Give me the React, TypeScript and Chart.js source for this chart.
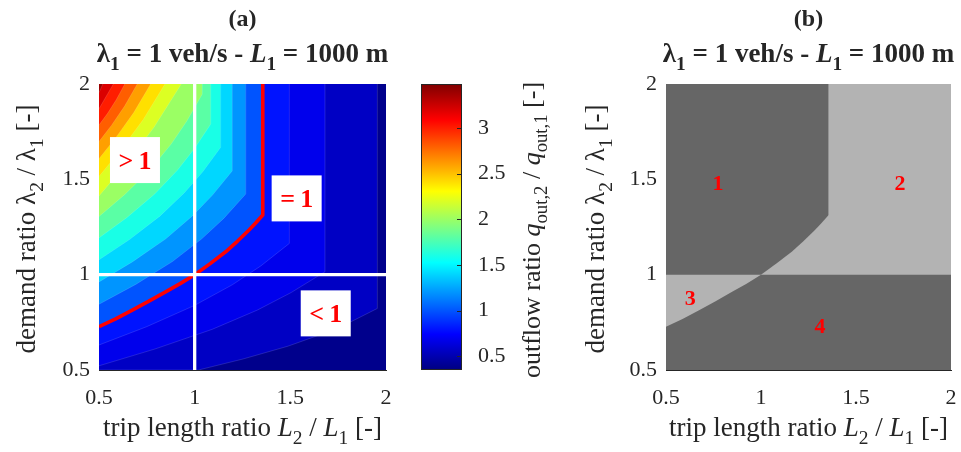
import React, { useEffect, useRef } from "react";
import { Chart, registerables } from "chart.js";
Chart.register(...registerables);

// ---------- data ----------
const xTicks = [0.5, 1, 1.5, 2];
const yTicks = [0.5, 1, 1.5, 2];
const cbarTicks = [0.5, 1, 1.5, 2, 2.5, 3];
const cbarMin = 0.35;
const cbarMax = 3.48;
const levels = [0.4, 0.6, 0.8, 1.0, 1.2, 1.4, 1.6, 1.8, 2.0, 2.2, 2.4, 2.6, 2.8, 3.0, 3.2, 3.4];

// contour lines [L2/L1, lambda2/lambda1]
const c040 = [[0.5, 0.5], [1.02, 0.5], [1.254, 0.558], [1.488, 0.625], [1.675, 0.692], [1.815, 0.752], [1.955, 0.823], [1.955, 2]];
const c060 = [[0.5, 0.522], [0.795, 0.611], [1.091, 0.713], [1.327, 0.814], [1.504, 0.906], [1.681, 1.015], [1.681, 2]];
const c080 = [[0.5, 0.631], [0.749, 0.727], [0.998, 0.838], [1.197, 0.947], [1.346, 1.046], [1.495, 1.164], [1.495, 2]];
const unityCurve = [
  [0.5, 0.727], [0.587, 0.768], [0.674, 0.814], [0.761, 0.861], [0.848, 0.91], [0.924, 0.953], [1.0, 1.0],
  [1.081, 1.058], [1.162, 1.12], [1.223, 1.175], [1.284, 1.234], [1.32, 1.272], [1.356, 1.313], [1.356, 2],
];
const c120 = [[0.5, 0.845], [0.692, 0.949], [0.884, 1.069], [1.037, 1.188], [1.152, 1.295], [1.267, 1.423], [1.267, 2]];
const c140 = [[0.5, 0.962], [0.674, 1.067], [0.849, 1.188], [0.988, 1.308], [1.092, 1.416], [1.197, 1.545], [1.197, 2]];
const c160 = [[0.5, 1.078], [0.659, 1.184], [0.818, 1.307], [0.945, 1.428], [1.041, 1.538], [1.136, 1.668], [1.136, 2]];
const c180 = [[0.5, 1.193], [0.646, 1.3], [0.792, 1.424], [0.909, 1.547], [0.996, 1.658], [1.084, 1.79], [1.084, 2]];
const c200 = [[0.5, 1.305], [0.635, 1.421], [0.77, 1.554], [0.878, 1.686], [0.959, 1.806], [1.04, 1.948], [1.04, 2]];
const c220 = [[0.5, 1.413], [0.642, 1.581], [0.788, 1.774], [0.93, 2]];
const c240 = [[0.5, 1.515], [0.614, 1.654], [0.731, 1.813], [0.845, 2]];
const c260 = [[0.5, 1.608], [0.589, 1.72], [0.681, 1.849], [0.77, 2]];
const c280 = [[0.5, 1.698], [0.566, 1.784], [0.634, 1.884], [0.7, 2]];
const c300 = [[0.5, 1.785], [0.545, 1.846], [0.59, 1.917], [0.635, 2]];
const c320 = [[0.5, 1.87], [0.575, 2]];
const c340 = [[0.5, 1.955], [0.52, 2]];
const contours = [c040, c060, c080, unityCurve, c120, c140, c160, c180, c200, c220, c240, c260, c280, c300, c320, c340];

const crossValue = 1;
const boxTextsA = [">\u20091", "=\u20091", "<\u20091"];
const boxPosA = [[0.688, 1.601], [1.533, 1.4], [1.685, 0.797]];
const regionNames = ["1", "2", "3", "4"];
const regionPos = [[0.774, 1.487], [1.732, 1.487], [0.627, 0.885], [1.31, 0.735]];

// ---------- styling helpers ----------
const SERIF = '"Liberation Serif", "Times New Roman", serif';
const INK = "#262626";
const W = 961;
const H = 452;
const LABEL_SIZE = 27;

function jet(f: number) {
  const c = (v: number) => Math.round(255 * Math.max(0, Math.min(1, v)));
  return `rgb(${c(1.5 - Math.abs(4 * f - 3))},${c(1.5 - Math.abs(4 * f - 2))},${c(1.5 - Math.abs(4 * f - 1))})`;
}
const frac = (v: number) => (v - cbarMin) / (cbarMax - cbarMin);
const lowBandColors = ["rgb(0,0,196)", "rgb(0,0,236)"];
const bandColor = (k: number) => (k < lowBandColors.length ? lowBandColors[k] : jet(frac(levels[k])));
const pts = (a: number[][]) => a.map(([x, y]) => ({ x, y }));

type Part = { t: string; i?: boolean; b?: boolean; sub?: boolean };
function fontOf(p: Part, size: number) {
  const s = p.sub ? size * 0.72 : size;
  return `${p.i ? "italic " : ""}${p.b ? "bold " : ""}${s}px ${SERIF}`;
}
function drawRich(ctx: CanvasRenderingContext2D, parts: Part[], size: number, cx: number, cy: number, rotate = false, color = INK) {
  ctx.save();
  ctx.translate(cx, cy);
  if (rotate) ctx.rotate(-Math.PI / 2);
  let w = 0;
  const widths = parts.map((p) => {
    ctx.font = fontOf(p, size);
    const m = ctx.measureText(p.t).width;
    w += m;
    return m;
  });
  let x = -w / 2;
  ctx.textBaseline = "alphabetic";
  ctx.textAlign = "left";
  ctx.fillStyle = color;
  parts.forEach((p, k) => {
    ctx.font = fontOf(p, size);
    ctx.fillText(p.t, x, size * 0.35 + (p.sub ? size * 0.28 : 0));
    x += widths[k];
  });
  ctx.restore();
}

const titleLine2: Part[] = [
  { t: "λ", b: true }, { t: "1", b: true, sub: true }, { t: " = 1 veh/s - ", b: true },
  { t: "L", b: true, i: true }, { t: "1", b: true, sub: true }, { t: " = 1000 m", b: true },
];
const xLabel: Part[] = [
  { t: "trip length ratio " }, { t: "L", i: true }, { t: "2", sub: true }, { t: " / " },
  { t: "L", i: true }, { t: "1", sub: true }, { t: " [-]" },
];
const yLabel: Part[] = [
  { t: "demand ratio " }, { t: "λ" }, { t: "2", sub: true }, { t: " / " },
  { t: "λ" }, { t: "1", sub: true }, { t: " [-]" },
];
const cLabel: Part[] = [
  { t: "outflow ratio " }, { t: "q", i: true }, { t: "out,2", sub: true }, { t: " / " },
  { t: "q", i: true }, { t: "out,1", sub: true }, { t: " [-]" },
];

const TICK_FONT = { family: SERIF, size: 22 };

function panelScales() {
  const common = {
    type: "linear" as const,
    min: 0.5,
    max: 2,
    grid: { display: true, drawOnChartArea: false, drawTicks: false, color: "rgba(0,0,0,0)" },
    border: { display: true, color: INK, width: 1 },
  };
  return {
    x: {
      ...common,
      afterBuildTicks: (s: any) => { s.ticks = xTicks.map((v) => ({ value: v })); },
      afterFit: (s: any) => { s.height = 40; s.paddingLeft = 0; s.paddingRight = 0; },
      ticks: { font: TICK_FONT, color: INK, padding: 15, maxRotation: 0, autoSkip: false, callback: (v: any) => String(v) },
    },
    y: {
      ...common,
      afterBuildTicks: (s: any) => { s.ticks = yTicks.map((v) => ({ value: v })); },
      afterFit: (s: any) => { s.width = 50; s.paddingTop = 0; s.paddingBottom = 0; },
      ticks: { font: TICK_FONT, color: INK, padding: 9, autoSkip: false, callback: (v: any) => String(v) },
    },
  };
}

const baseOpts = {
  animation: false as const,
  responsive: false,
  devicePixelRatio: 1,
  events: [] as any[],
  plugins: { legend: { display: false }, tooltip: { enabled: false } },
};

function configA(): any {
  const bands = contours.map((c, k) => ({
    data: pts(c),
    fill: "end",
    backgroundColor: bandColor(k),
    borderColor: "rgba(255,255,255,0.22)",
    borderWidth: 0.6,
    pointRadius: 0,
    tension: 0,
    order: 60 - k,
  }));
  const bg = { data: pts([[0.5, 2], [2, 2]]), fill: "start", backgroundColor: "rgb(0,0,140)", borderWidth: 0, pointRadius: 0, order: 100 };
  const red = { data: pts(unityCurve), fill: false, borderColor: "#ff0000", borderWidth: 3.6, pointRadius: 0, order: 3, borderJoinStyle: "round" };
  const wh = { data: pts([[0.5, crossValue], [2, crossValue]]), fill: false, borderColor: "#ffffff", borderWidth: 3.3, pointRadius: 0, order: 1 };
  const wv = { data: pts([[crossValue, 0.5], [crossValue, 2]]), fill: false, borderColor: "#ffffff", borderWidth: 3.3, pointRadius: 0, order: 1 };
  const plugin = {
    id: "decorA",
    afterDatasetsDraw(chart: any) {
      const { ctx, scales } = chart;
      boxPosA.forEach(([lx, ly], k) => {
        const px = scales.x.getPixelForValue(lx);
        const py = scales.y.getPixelForValue(ly);
        ctx.save();
        ctx.fillStyle = "#ffffff";
        ctx.fillRect(px - 25, py - 23, 50, 46);
        ctx.fillStyle = "#ff0000";
        ctx.font = `bold 26px ${SERIF}`;
        ctx.textAlign = "center";
        ctx.textBaseline = "alphabetic";
        ctx.fillText(boxTextsA[k], px, py + 9);
        ctx.restore();
      });
    },
    afterDraw(chart: any) {
      const { ctx } = chart;
      const cx = (chart.chartArea.left + chart.chartArea.right) / 2;
      drawRich(ctx, [{ t: "(a)", b: true }], 24, cx, 18);
      drawRich(ctx, titleLine2, LABEL_SIZE, cx, 53);
      drawRich(ctx, xLabel, LABEL_SIZE, cx, 427);
      drawRich(ctx, yLabel, LABEL_SIZE, 26, 229, true);
    },
  };
  return {
    type: "line",
    data: { datasets: [bg, ...bands, red, wh, wv] },
    options: { ...baseOpts, layout: { padding: { left: 49, right: W - 386, top: 84, bottom: H - 370 - 40 } }, scales: panelScales() },
    plugins: [plugin],
  };
}

function configB(): any {
  const region1 = [[0.5, crossValue], ...unityCurve.filter(([l]) => l >= crossValue)];
  const region4 = [...unityCurve.filter(([l]) => l <= crossValue), [2, crossValue]];
  const light = { data: pts([[0.5, 2], [2, 2]]), fill: "start", backgroundColor: "#b3b3b3", borderWidth: 0, pointRadius: 0, order: 10 };
  const dark1 = { data: pts(region1), fill: "end", backgroundColor: "#666666", borderWidth: 0, pointRadius: 0, order: 5 };
  const dark4 = { data: pts(region4), fill: "start", backgroundColor: "#666666", borderWidth: 0, pointRadius: 0, order: 5 };
  const plugin = {
    id: "decorB",
    afterDatasetsDraw(chart: any) {
      const { ctx, scales } = chart;
      regionPos.forEach(([lx, ly], k) => {
        const px = scales.x.getPixelForValue(lx);
        const py = scales.y.getPixelForValue(ly);
        ctx.save();
        ctx.fillStyle = "#ff0000";
        ctx.font = `bold 22px ${SERIF}`;
        ctx.textAlign = "center";
        ctx.textBaseline = "alphabetic";
        ctx.fillText(regionNames[k], px, py + 8);
        ctx.restore();
      });
    },
    afterDraw(chart: any) {
      const { ctx } = chart;
      const cx = (chart.chartArea.left + chart.chartArea.right) / 2;
      drawRich(ctx, [{ t: "(b)", b: true }], 24, cx, 18);
      drawRich(ctx, titleLine2, LABEL_SIZE, cx, 53);
      drawRich(ctx, xLabel, LABEL_SIZE, cx, 427);
      drawRich(ctx, yLabel, LABEL_SIZE, 595, 229, true);
    },
  };
  return {
    type: "line",
    data: { datasets: [light, dark1, dark4] },
    options: { ...baseOpts, layout: { padding: { left: 666 - 50, right: W - 951, top: 84, bottom: H - 370 - 40 } }, scales: panelScales() },
    plugins: [plugin],
  };
}

function configC(): any {
  const plugin = {
    id: "decorC",
    afterDraw(chart: any) {
      const { ctx, chartArea, scales } = chart;
      ctx.save();
      ctx.strokeStyle = INK;
      ctx.lineWidth = 1;
      ctx.strokeRect(chartArea.left + 0.5, chartArea.top + 0.5, chartArea.right - chartArea.left - 1, chartArea.bottom - chartArea.top - 1);
      cbarTicks.forEach((v) => {
        const y = Math.round(scales.y.getPixelForValue(v)) + 0.5;
        ctx.beginPath();
        ctx.moveTo(chartArea.right - 5, y);
        ctx.lineTo(chartArea.right, y);
        ctx.stroke();
      });
      ctx.restore();
      drawRich(ctx, cLabel, 26, 531, 230, true);
    },
  };
  return {
    type: "bar",
    data: {
      labels: [""],
      datasets: [{
        data: [[cbarMin, cbarMax]],
        barPercentage: 1,
        categoryPercentage: 1,
        borderWidth: 0,
        backgroundColor: (c: any) => {
          const area = c.chart.chartArea;
          if (!area) return jet(0.5);
          const g = c.chart.ctx.createLinearGradient(0, area.bottom, 0, area.top);
          for (let i = 0; i <= 32; i++) g.addColorStop(i / 32, jet(i / 32));
          return g;
        },
      }],
    },
    options: {
      ...baseOpts,
      layout: { padding: { left: 421, right: W - 462 - 50, top: 84, bottom: H - 370 } },
      scales: {
        x: { display: false },
        y: {
          type: "linear",
          position: "right",
          min: cbarMin,
          max: cbarMax,
          afterBuildTicks: (s: any) => { s.ticks = cbarTicks.map((v) => ({ value: v })); },
          afterFit: (s: any) => { s.width = 50; s.paddingTop = 0; s.paddingBottom = 0; },
          grid: { display: false },
          border: { display: false },
          ticks: { font: TICK_FONT, color: INK, padding: 8, autoSkip: false, callback: (v: any) => String(v) },
        },
      },
    },
    plugins: [plugin],
  };
}

export default function App() {
  const aRef = useRef<HTMLCanvasElement>(null);
  const bRef = useRef<HTMLCanvasElement>(null);
  const cRef = useRef<HTMLCanvasElement>(null);
  useEffect(() => {
    const charts = [
      new Chart(aRef.current as HTMLCanvasElement, configA()),
      new Chart(cRef.current as HTMLCanvasElement, configC()),
      new Chart(bRef.current as HTMLCanvasElement, configB()),
    ];
    return () => charts.forEach((c) => c.destroy());
  }, []);
  const st: React.CSSProperties = { position: "absolute", left: 0, top: 0 };
  return (
    <div style={{ position: "absolute", left: 0, top: 0, width: W, height: H, background: "#ffffff", overflow: "hidden" }}>
      <canvas ref={aRef} width={W} height={H} style={st} />
      <canvas ref={cRef} width={W} height={H} style={st} />
      <canvas ref={bRef} width={W} height={H} style={st} />
    </div>
  );
}
